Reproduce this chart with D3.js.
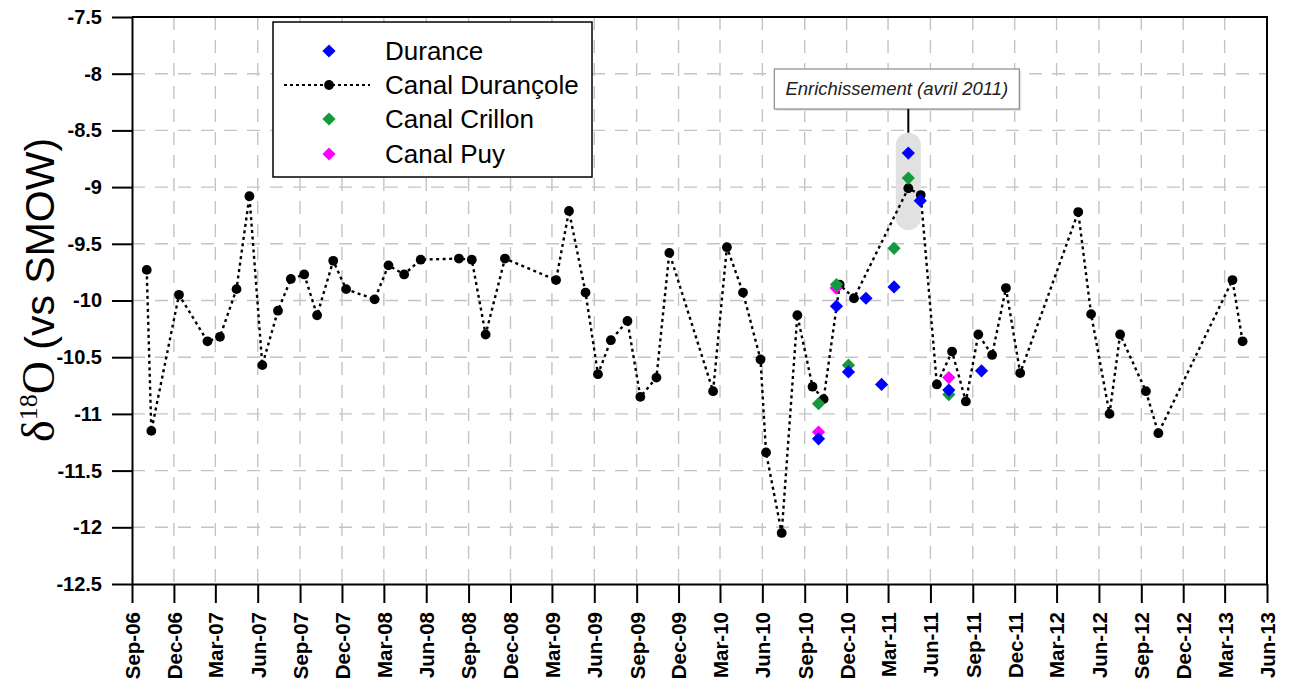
<!DOCTYPE html>
<html><head><meta charset="utf-8">
<script src="https://cdn.jsdelivr.net/npm/d3@7"></script>
<style>body{margin:0;background:#fff}</style>
</head><body><svg id="chart" width="1292" height="686"></svg>
<script>
// ---------- DATA ----------
const xTickLabels = ["Sep-06","Dec-06","Mar-07","Jun-07","Sep-07","Dec-07","Mar-08","Jun-08","Sep-08","Dec-08",
  "Mar-09","Jun-09","Sep-09","Dec-09","Mar-10","Jun-10","Sep-10","Dec-10","Mar-11","Jun-11","Sep-11","Dec-11",
  "Mar-12","Jun-12","Sep-12","Dec-12","Mar-13","Jun-13"];
const yTicks = [-7.5,-8,-8.5,-9,-9.5,-10,-10.5,-11,-11.5,-12,-12.5];
const yTickLabels = ["-7.5","-8","-8.5","-9","-9.5","-10","-10.5","-11","-11.5","-12","-12.5"];

const durancoleDates = ["2006-10-03","2006-10-13","2006-12-12","2007-02-12","2007-03-11","2007-04-16","2007-05-14",
  "2007-06-11","2007-07-15","2007-08-12","2007-09-10","2007-10-08","2007-11-12","2007-12-10","2008-02-10","2008-03-11",
  "2008-04-14","2008-05-20","2008-08-11","2008-09-08","2008-10-08","2008-11-19","2009-03-10","2009-04-07","2009-05-13",
  "2009-06-09","2009-07-07","2009-08-12","2009-09-09","2009-10-14","2009-11-11","2010-02-14","2010-03-16","2010-04-20",
  "2010-05-28","2010-06-09","2010-07-13","2010-08-16","2010-09-18","2010-10-12","2010-11-16","2010-12-17","2011-04-14",
  "2011-05-11","2011-06-15","2011-07-18","2011-08-17","2011-09-13","2011-10-13","2011-11-12","2011-12-13","2012-04-17",
  "2012-05-15","2012-06-24","2012-07-17","2012-09-11","2012-10-08","2013-03-18","2013-04-09"];
const durancoleValues = [-9.73,-11.15,-9.95,-10.36,-10.32,-9.90,-9.08,-10.57,-10.09,-9.81,-9.77,-10.13,-9.65,-9.90,
  -9.99,-9.69,-9.77,-9.64,-9.63,-9.64,-10.30,-9.63,-9.82,-9.21,-9.93,-10.65,-10.35,-10.18,-10.85,-10.68,-9.58,-10.80,
  -9.53,-9.93,-10.52,-11.34,-12.05,-10.13,-10.76,-10.87,-9.86,-9.98,-9.01,-9.07,-10.74,-10.45,-10.89,-10.30,-10.48,
  -9.89,-10.64,-9.22,-10.12,-11.00,-10.30,-10.80,-11.17,-9.82,-10.36];

const duranceDates = ["2010-10-01","2010-11-09","2010-12-05","2011-01-12","2011-02-15","2011-03-14","2011-04-14",
  "2011-05-10","2011-07-11","2011-09-20"];
const duranceValues = [-11.22,-10.05,-10.63,-9.98,-10.74,-9.88,-8.70,-9.12,-10.79,-10.62];

const crillonDates = ["2010-10-01","2010-11-09","2010-12-05","2011-03-14","2011-04-14","2011-07-11"];
const crillonValues = [-10.91,-9.86,-10.57,-9.54,-8.92,-10.83];

const puyDates = ["2010-10-01","2010-11-08","2011-07-11"];
const puyValues = [-11.16,-9.89,-10.68];

const seriesNames = ["Durance","Canal Durançole","Canal Crillon","Canal Puy"];
const seriesColors = ["#0000ff","#000000","#129a3c","#ff00ff"];

const annotationText = "Enrichissement (avril 2011)";
const annotationDate = "2011-04-14";
const annotationRange = [-8.52,-9.38];

// ---------- SETUP ----------
const parseISO = d3.timeParse("%Y-%m-%d");
const parseTick = d3.timeParse("%b-%y");
const svg = d3.select("#chart");
const L = 132, R = 1267, T = 17, B = 584;
const FONT = "Arial, 'Liberation Sans', Helvetica, sans-serif";
const SERIF = "'Liberation Serif', 'Times New Roman', 'DejaVu Serif', serif";

const x = d3.scaleTime().domain([parseTick("Sep-06"), parseTick("Jun-13")]).range([L, R]);
const y = d3.scaleLinear().domain([-12.5, -7.5]).range([B, T]);
const xTickDates = xTickLabels.map(parseTick);

// grid
const grid = svg.append("g").attr("stroke", "#c4c4c4").attr("stroke-width", 1.4).attr("stroke-dasharray", "13,10");
grid.selectAll("line.v").data(xTickDates.slice(1, -1)).join("line")
  .attr("x1", d => x(d)).attr("x2", d => x(d)).attr("y1", T).attr("y2", B);
grid.selectAll("line.h").data(yTicks.slice(1, -1)).join("line")
  .attr("x1", L).attr("x2", R).attr("y1", d => y(d)).attr("y2", d => y(d));

// highlight capsule
const ax = x(parseISO(annotationDate));
const capW = 25;
svg.append("rect").attr("x", ax - capW / 2).attr("width", capW)
  .attr("y", y(annotationRange[0])).attr("height", y(annotationRange[1]) - y(annotationRange[0]))
  .attr("rx", capW / 2).attr("fill", "#e1e1e1");

// axes
const xAxis = svg.append("g").attr("transform", `translate(0,${B})`)
  .call(d3.axisBottom(x).tickValues(xTickDates).tickSize(19).tickSizeOuter(0).tickFormat((d, i) => xTickLabels[i]));
xAxis.select(".domain").attr("stroke-width", 2);
xAxis.selectAll(".tick line").attr("stroke-width", 2);
xAxis.selectAll(".tick text")
  .attr("transform", "rotate(-90)").attr("text-anchor", "end")
  .attr("x", -28).attr("y", 0).attr("dy", "0.36em")
  .attr("font-family", FONT).attr("font-weight", "bold").attr("font-size", 20.5).attr("fill", "#000");

const yAxis = svg.append("g").attr("transform", `translate(${L},0)`)
  .call(d3.axisLeft(y).tickValues(yTicks).tickSize(20).tickSizeOuter(0).tickPadding(10).tickFormat((d, i) => yTickLabels[i]));
yAxis.select(".domain").attr("stroke-width", 2);
yAxis.selectAll(".tick line").attr("stroke-width", 2);
yAxis.selectAll(".tick text")
  .attr("font-family", FONT).attr("font-weight", "bold").attr("font-size", 20).attr("fill", "#000");

// frame top & right
svg.append("path").attr("d", `M${L},${T}H${R}V${B}`).attr("fill", "none").attr("stroke", "#000").attr("stroke-width", 2);

// y title
const title = svg.append("text").attr("transform", `translate(54,290) rotate(-90)`)
  .attr("text-anchor", "middle").attr("fill", "#000");
title.append("tspan").attr("font-family", SERIF).attr("font-size", 46).text("δ");
title.append("tspan").attr("font-family", SERIF).attr("font-size", 26).attr("dy", -17).text("18");
title.append("tspan").attr("font-family", SERIF).attr("font-size", 46).attr("dy", 17).text("O");
title.append("tspan").attr("font-family", FONT).attr("font-size", 41).text(" (vs SMOW)");

// Durançole line
const durPts = durancoleDates.map((d, i) => ({ date: parseISO(d), v: durancoleValues[i] }));
svg.append("path").datum(durPts)
  .attr("d", d3.line().x(d => x(d.date)).y(d => y(d.v)))
  .attr("fill", "none").attr("stroke", "#000").attr("stroke-width", 2.4).attr("stroke-dasharray", "3,3.5");
svg.append("g").selectAll("circle").data(durPts).join("circle")
  .attr("cx", d => x(d.date)).attr("cy", d => y(d.v)).attr("r", 4.9).attr("fill", "#000");

// diamonds
const diamond = "M0,-6.6L6.6,0L0,6.6L-6.6,0Z";
function drawDiamonds(dates, vals, color) {
  svg.append("g").selectAll("path").data(dates.map((d, i) => ({ date: parseISO(d), v: vals[i] }))).join("path")
    .attr("d", diamond).attr("transform", d => `translate(${x(d.date)},${y(d.v)})`).attr("fill", color);
}
drawDiamonds(puyDates, puyValues, seriesColors[3]);
drawDiamonds(crillonDates, crillonValues, seriesColors[2]);
drawDiamonds(duranceDates, duranceValues, seriesColors[0]);

// annotation
const boxW = 245, boxH = 40, boxTop = 69, boxLeft = ax - 134;
svg.append("rect").attr("x", boxLeft + 2).attr("y", boxTop + 2).attr("width", boxW).attr("height", boxH).attr("fill", "#e4e4e4");
svg.append("rect").attr("x", boxLeft).attr("y", boxTop).attr("width", boxW).attr("height", boxH)
  .attr("fill", "#fff").attr("stroke", "#8a8a8a").attr("stroke-width", 1.2);
svg.append("text").attr("x", boxLeft + boxW / 2).attr("y", boxTop + boxH / 2).attr("dy", "0.35em")
  .attr("text-anchor", "middle").attr("font-family", FONT).attr("font-style", "italic").attr("font-size", 18.5)
  .attr("fill", "#222").text(annotationText);
svg.append("line").attr("x1", ax).attr("x2", ax).attr("y1", boxTop + boxH).attr("y2", y(annotationRange[0]))
  .attr("stroke", "#000").attr("stroke-width", 2);

// legend
const lg = svg.append("g");
lg.append("rect").attr("x", 273).attr("y", 22).attr("width", 319).attr("height", 155)
  .attr("fill", "#fff").attr("stroke", "#000").attr("stroke-width", 1.5);
const rowY = [51, 85, 119, 154];
seriesNames.forEach((name, i) => {
  const cy = rowY[i];
  if (i === 1) {
    lg.append("line").attr("x1", 284).attr("x2", 370).attr("y1", cy).attr("y2", cy)
      .attr("stroke", "#000").attr("stroke-width", 2).attr("stroke-dasharray", "3,3");
    lg.append("circle").attr("cx", 329).attr("cy", cy).attr("r", 4.9).attr("fill", "#000");
  } else {
    lg.append("path").attr("d", diamond).attr("transform", `translate(329,${cy})`).attr("fill", seriesColors[i]);
  }
  lg.append("text").attr("x", 385).attr("y", cy).attr("dy", "0.36em")
    .attr("font-family", FONT).attr("font-size", 26).attr("fill", "#000").text(name);
});
</script>
</body></html>
